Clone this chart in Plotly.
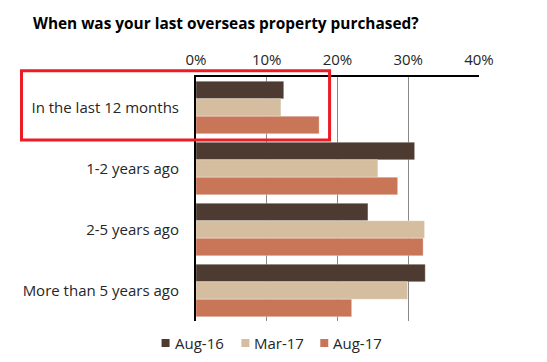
import plotly.graph_objects as go

categories = ["In the last 12 months", "1-2 years ago", "2-5 years ago", "More than 5 years ago"]
series_names = ["Aug-16", "Mar-17", "Aug-17"]
aug16 = [12.4, 30.9, 24.3, 32.4]
mar17 = [12.0, 25.7, 32.3, 29.9]
aug17 = [17.4, 28.5, 32.1, 22.0]
tick_vals = [0, 10, 20, 30, 40]
tick_text = ["0%", "10%", "20%", "30%", "40%"]
colors = ["#4D3B31", "#D4BE9F", "#C87558"]

W, H = 547, 362
L, R, T, B = 195.5, 68, 77, 41

fig = go.Figure()
for name, vals, c in zip(series_names, [aug16, mar17, aug17], colors):
    fig.add_trace(go.Bar(
        y=categories, x=vals, name=name, orientation="h",
        marker=dict(color=c, line=dict(color="rgba(255,255,255,0.6)", width=0.5)),
        showlegend=False,
    ))

pw = W - L - R
ph = H - T - B

def px_x(x):
    return (x - L) / pw

def px_y(y):
    return (H - B - y) / ph

annotations = [dict(text="<b>When was your last overseas property purchased?</b>",
                    xref="paper", yref="paper", x=px_x(30), y=px_y(23.5),
                    xanchor="left", yanchor="middle", showarrow=False,
                    font=dict(size=15.4, color="black", family="Open Sans"))]
shapes = [dict(type="rect", xref="paper", yref="paper",
               x0=px_x(20.7), x1=px_x(329.3), y0=px_y(140), y1=px_y(70.7),
               line=dict(color="#ED1C24", width=3))]

# legend (square key + label per series)
legend_x = [161, 241, 320]
for name, c, lx in zip(series_names, colors, legend_x):
    shapes.append(dict(type="rect", xref="paper", yref="paper",
                       x0=px_x(lx), x1=px_x(lx + 8), y0=px_y(347), y1=px_y(339),
                       fillcolor=c, line=dict(width=0)))
    annotations.append(dict(text=name, xref="paper", yref="paper",
                            x=px_x(lx + 11), y=px_y(342.5), xanchor="left", yanchor="middle",
                            showarrow=False, font=dict(size=15, color="#262626")))

fig.update_layout(
    width=W, height=H,
    margin=dict(l=L, r=R, t=T, b=B, pad=0, autoexpand=False),
    paper_bgcolor="white", plot_bgcolor="white",
    barmode="group", bargap=0.14, bargroupgap=0,
    font=dict(family="Open Sans", size=15, color="#262626"),
    showlegend=False,
    xaxis=dict(side="top", range=[0, 40], tickvals=tick_vals, ticktext=tick_text,
               showgrid=True, gridcolor="#888888", gridwidth=1, zeroline=False,
               showline=True, linecolor="black", linewidth=2, ticks="", fixedrange=True,
               automargin=False, ticklabelstandoff=4,
               tickfont=dict(size=15, color="#262626")),
    yaxis=dict(autorange="reversed", showline=True, linecolor="black", linewidth=2,
               ticks="", showgrid=False, ticklabelstandoff=12, automargin=False,
               fixedrange=True, tickfont=dict(size=15, color="#262626")),
    annotations=annotations,
    shapes=shapes,
)

fig.write_html("out.html", config={"displayModeBar": False},
               post_script="document.body.style.margin='0px';")
